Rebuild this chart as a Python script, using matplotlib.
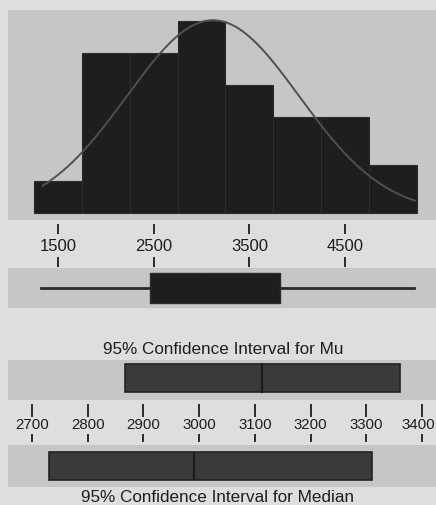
import matplotlib
matplotlib.use("Agg")
import matplotlib.pyplot as plt
import matplotlib.transforms as mtransforms
import numpy as np

# histogram data
bin_edges = [1250, 1750, 2250, 2750, 3250, 3750, 4250, 4750, 5250]
counts = [2, 10, 10, 12, 8, 6, 6, 3]
hist_ticks = [1500, 2500, 3500, 4500]

# fitted normal curve
fit_mean = 3120
fit_sd = 900
fit_peak = 12.05
curve_range = [1340, 5230]

# boxplot summary
box_stats = {"whislo": 1320, "q1": 2460, "med": 2990, "q3": 3820, "whishi": 5220}

# confidence intervals
mu_ci = [2867, 3113, 3360]
median_ci = [2731, 2990, 3310]
ci_ticks = [2700, 2800, 2900, 3000, 3100, 3200, 3300, 3400]

W, H = 436, 505
FIG_BG = "#dedede"
PANEL_BG = "#c6c6c6"
BAR_DARK = "#1e1e1e"
CI_BAR = "#3a3a3a"
TXT = "#1e1e1e"

plt.rcParams["font.family"] = ["Liberation Sans", "DejaVu Sans"]

fig = plt.figure(figsize=(W / 100, H / 100), dpi=100, facecolor=FIG_BG)


def px_axes(x0, y0, x1, y1):
    # rectangle in pixel coords (top-left origin)
    ax = fig.add_axes([x0 / W, 1 - y1 / H, (x1 - x0) / W, (y1 - y0) / H])
    ax.set_facecolor(PANEL_BG)
    for s in ax.spines.values():
        s.set_visible(False)
    ax.set_yticks([])
    return ax


# --- histogram ---
ax_h = px_axes(8, 10, 436, 220)
slope = 287 / 3000.0
ax_h.set_xlim(1500 - 50 / slope, 1500 + 378 / slope)
ax_h.set_ylim(-7 / 16, 203 / 16)
widths = np.diff(bin_edges)
ax_h.bar(bin_edges[:-1], counts, width=widths, align="edge",
         color=BAR_DARK, edgecolor="#2c2c2c", linewidth=0.8)
xs = np.linspace(curve_range[0], curve_range[1], 300)
ys = fit_peak * np.exp(-0.5 * ((xs - fit_mean) / fit_sd) ** 2)
ax_h.plot(xs, ys, color="#505050", linewidth=1.4)
ax_h.set_xticks(hist_ticks)
ax_h.set_xticklabels([str(t) for t in hist_ticks])
ax_h.spines["bottom"].set_position(("outward", 3))
ax_h.tick_params(axis="x", direction="out", length=7, width=1.3,
                 color=TXT, pad=3.5, labelsize=12, labelcolor=TXT)

# --- boxplot ---
ax_b = px_axes(8, 268, 436, 308)
ax_b.set_xlim(ax_h.get_xlim())
ax_b.set_ylim(0.5, 1.5)
stats = dict(box_stats, fliers=[])
ax_b.bxp([stats], positions=[1], widths=0.75, orientation="horizontal",
         patch_artist=True, showcaps=False,
         boxprops=dict(facecolor=BAR_DARK, edgecolor="#2c2c2c", linewidth=1),
         medianprops=dict(color=BAR_DARK, linewidth=1),
         whiskerprops=dict(color="#2a2a2a", linewidth=2))
ax_b.set_yticks([])
ax_b.xaxis.set_ticks_position("top")
ax_b.set_xticks(hist_ticks)
ax_b.set_xticklabels([])
ax_b.spines["top"].set_position(("outward", 1))
ax_b.tick_params(axis="x", direction="out", length=7, width=1.3, color=TXT)

# --- CI for mu ---
ci_slope = 390 / 700.0
ci_xlim = (2700 - 24 / ci_slope, 2700 + 404 / ci_slope)

fig.text(223 / W, 1 - 350 / H, "95% Confidence Interval for Mu",
         ha="center", va="center", fontsize=12.3, color=TXT)

ax_m = px_axes(8, 360, 436, 400)
ax_m.set_xlim(ci_xlim)
ax_m.set_ylim(-0.55, 0.45)
ax_m.barh(0, mu_ci[2] - mu_ci[0], left=mu_ci[0], height=0.7,
          color=CI_BAR, edgecolor="#222222", linewidth=1.2)
ax_m.plot([mu_ci[1], mu_ci[1]], [-0.35, 0.35], color="#1c1c1c", linewidth=1.5)
ax_m.set_xticks(ci_ticks)
ax_m.set_xticklabels([str(t) for t in ci_ticks])
ax_m.spines["bottom"].set_position(("outward", 3))
ax_m.tick_params(axis="x", direction="out", length=9, width=1.3,
                 color=TXT, pad=1, labelsize=10.8, labelcolor=TXT)
# keep the last label inside the figure edge
last = ax_m.get_xticklabels()[-1]
last.set_transform(last.get_transform() +
                   mtransforms.ScaledTranslation(-4 / 100, 0, fig.dpi_scale_trans))

# --- CI for median ---
ax_d = px_axes(8, 445, 436, 487)
ax_d.set_xlim(ci_xlim)
ax_d.set_ylim(-0.5, 0.5)
ax_d.barh(0, median_ci[2] - median_ci[0], left=median_ci[0], height=0.65,
          color=CI_BAR, edgecolor="#222222", linewidth=1.2)
ax_d.plot([median_ci[1], median_ci[1]], [-0.32, 0.32], color="#1c1c1c", linewidth=1.5)
ax_d.xaxis.set_ticks_position("top")
ax_d.set_xticks(ci_ticks)
ax_d.set_xticklabels([])
ax_d.spines["top"].set_position(("outward", 2))
ax_d.tick_params(axis="x", direction="out", length=6, width=1.3, color=TXT)

fig.text(217 / W, 1 - 497 / H, "95% Confidence Interval for Median",
         ha="center", va="center", fontsize=12.3, color=TXT)

fig.savefig("out.png", dpi=100, facecolor=FIG_BG)
